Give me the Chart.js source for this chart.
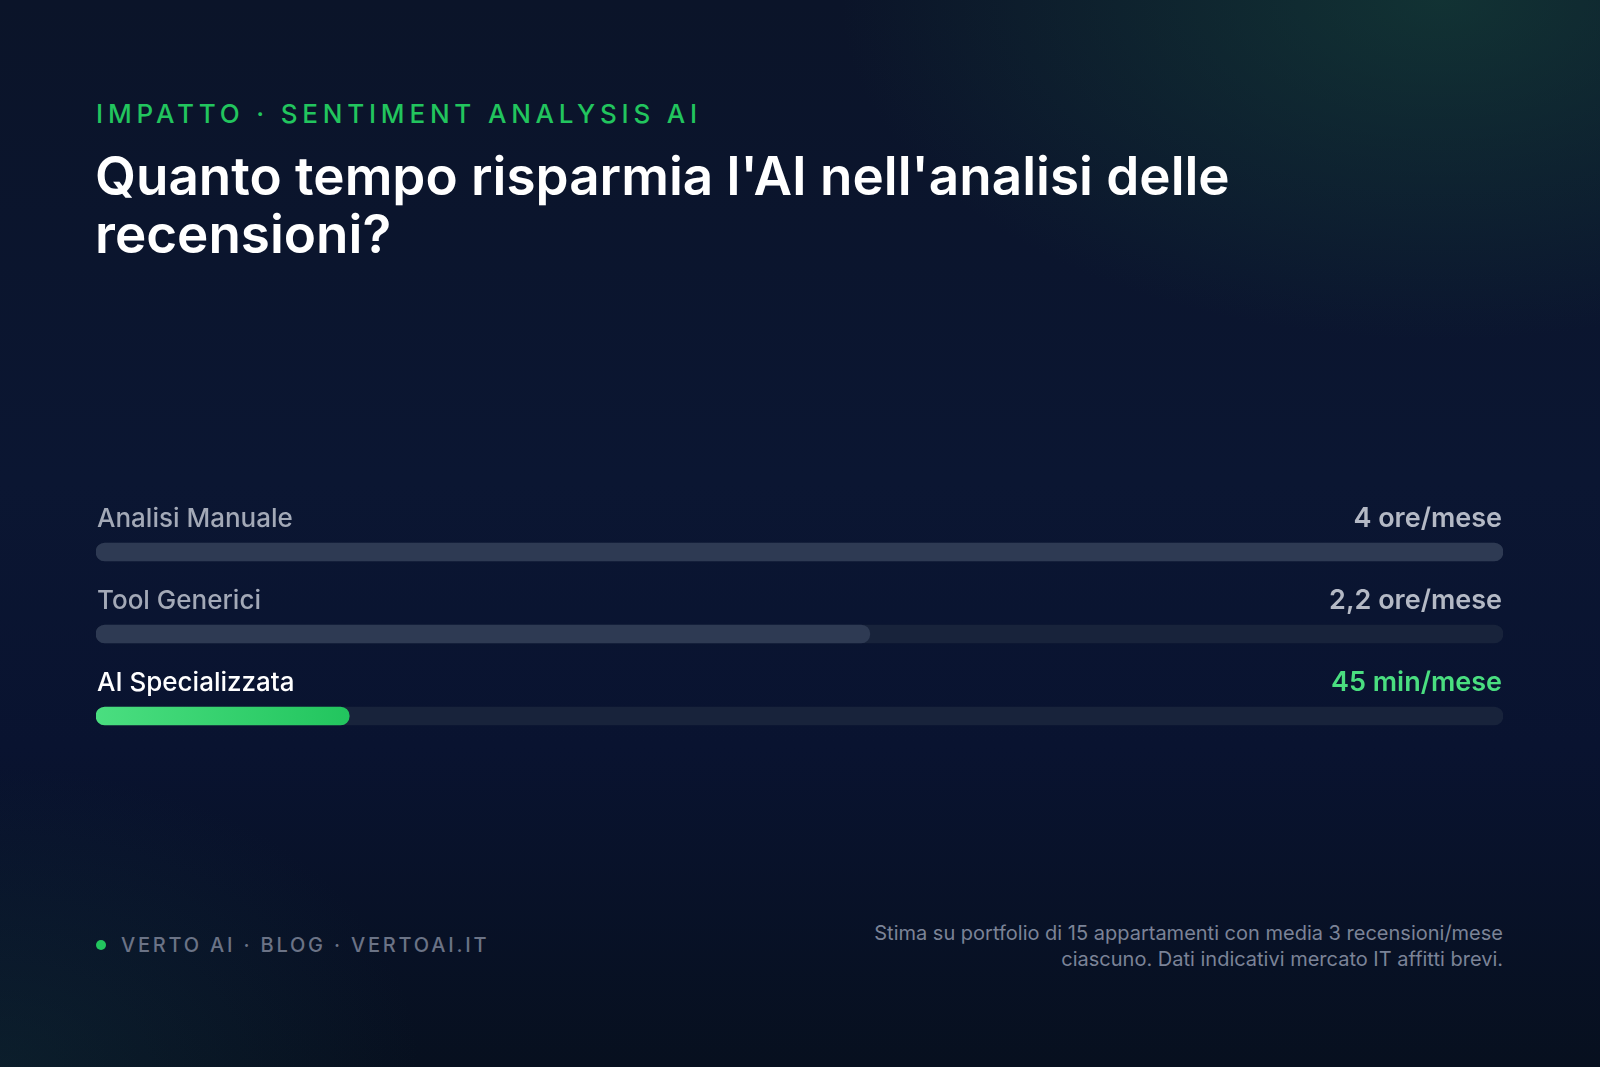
<!DOCTYPE html>
<html lang="it">
<head>
<meta charset="utf-8">
<title>Sentiment Analysis AI</title>
<script src="https://cdn.jsdelivr.net/npm/chart.js@4"></script>
<style>
    html, body {
        margin: 0;
        padding: 0;
    }
    body {
        width: 1600px;
        height: 1067px;
        position: relative;
        overflow: hidden;
        font-family: Inter, "Noto Sans", sans-serif;
        background:
            radial-gradient(ellipse 600px 340px at 90% 0%, rgba(24, 80, 62, 0.5), rgba(24, 80, 62, 0) 100%),
            radial-gradient(ellipse 420px 300px at 0% 100%, rgba(22, 62, 72, 0.3), rgba(22, 62, 72, 0) 100%),
            linear-gradient(180deg, #0b1429 0%, #0b1632 45%, #091330 70%, #07101f 100%);
    }
    .kicker {
        position: absolute;
        left: 96px;
        top: 98px;
        font-size: 26px;
        font-weight: 500;
        letter-spacing: 0.185em;
        color: #22c55e;
    }
    .title {
        position: absolute;
        left: 95px;
        top: 147px;
        font-size: 53px;
        line-height: 58px;
        font-weight: 600;
        letter-spacing: 0;
        color: #ffffff;
    }
    #chart-box {
        position: absolute;
        left: 96px;
        top: 470px;
        width: 1407px;
        height: 290px;
    }
    .footer-left {
        position: absolute;
        left: 96px;
        top: 933px;
        font-size: 20px;
        font-weight: 500;
        letter-spacing: 0.14em;
        color: #6b7386;
        display: flex;
        align-items: center;
    }
    .footer-left .dot {
        width: 10px;
        height: 10px;
        border-radius: 50%;
        background: #22c55e;
        margin-right: 15px;
    }
    .footnote {
        position: absolute;
        right: 97px;
        top: 920px;
        text-align: right;
        font-size: 20px;
        line-height: 26px;
        color: #7b8397;
    }
</style>
</head>
<body>
<div class="kicker">IMPATTO · SENTIMENT ANALYSIS AI</div>
<div class="title">Quanto tempo risparmia l'AI nell'analisi delle<br>recensioni?</div>
<div id="chart-box"><canvas id="time-chart"></canvas></div>
<div class="footer-left"><span class="dot"></span>VERTO AI · BLOG · VERTOAI.IT</div>
<div class="footnote">Stima su portfolio di 15 appartamenti con media 3 recensioni/mese<br>ciascuno. Dati indicativi mercato IT affitti brevi.</div>

<script>
// Chart data
const categories = ['Analisi Manuale', 'Tool Generici', 'AI Specializzata'];
const barShare = [100, 55, 18];   // bar length, % of track
const trackShare = [100, 100, 100];
const valueLabels = ['4 ore/mese', '2,2 ore/mese', '45 min/mese'];

// Colours
const labelColors = ['#a3a9b7', '#a3a9b7', '#ffffff'];
const valueColors = ['#b4b9c5', '#b4b9c5', '#4ade80'];
const trackColor = '#18233b';
const fillColor = '#2e3a53';

// Labels above each bar
const rowLabels = {
    id: 'rowLabels',
    afterDatasetsDraw(chart) {
        const ctx = chart.ctx;
        const area = chart.chartArea;
        const meta = chart.getDatasetMeta(0);
        ctx.save();
        ctx.textBaseline = 'alphabetic';
        meta.data.forEach((bar, i) => {
            const y = bar.y - 25;
            ctx.font = '500 26px Inter, "Noto Sans", sans-serif';
            ctx.fillStyle = labelColors[i];
            ctx.textAlign = 'left';
            ctx.fillText(categories[i], area.left + 1, y);
            ctx.font = '600 27px Inter, "Noto Sans", sans-serif';
            ctx.fillStyle = valueColors[i];
            ctx.textAlign = 'right';
            ctx.fillText(valueLabels[i], area.right - 1, y);
        });
        ctx.restore();
    }
};

function barFill(context) {
    const i = context.dataIndex;
    if (i !== 2) return fillColor;
    const chart = context.chart;
    const area = chart.chartArea;
    if (!area) return '#4ade80';
    const end = chart.scales.x.getPixelForValue(barShare[i]);
    const g = chart.ctx.createLinearGradient(area.left, 0, end, 0);
    g.addColorStop(0, '#4ade80');
    g.addColorStop(1, '#22c55e');
    return g;
}

const ctx = document.getElementById('time-chart');
new Chart(ctx, {
    type: 'bar',
    data: {
        labels: categories,
        datasets: [
            {
                label: 'Tempo',
                data: barShare,
                backgroundColor: barFill,
                borderRadius: 9,
                borderSkipped: false,
                barThickness: 18,
                grouped: false,
                order: 1
            },
            {
                label: 'Traccia',
                data: trackShare,
                backgroundColor: trackColor,
                borderRadius: 9,
                borderSkipped: false,
                barThickness: 18,
                grouped: false,
                order: 2
            }
        ]
    },
    options: {
        indexAxis: 'y',
        responsive: true,
        maintainAspectRatio: false,
        animation: false,
        layout: {
            padding: { top: 41, bottom: 3, left: 0, right: 0 }
        },
        scales: {
            x: { display: false, min: 0, max: 100 },
            y: { display: false }
        },
        plugins: {
            legend: { display: false },
            tooltip: { enabled: false }
        }
    },
    plugins: [rowLabels]
});
</script>
</body>
</html>
